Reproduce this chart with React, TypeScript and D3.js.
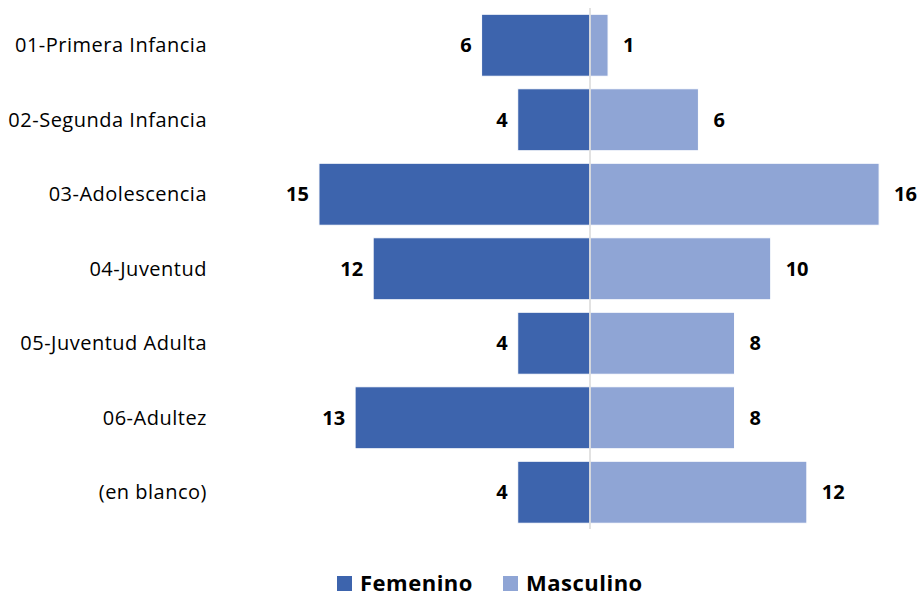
import React from "react";
import * as d3 from "d3";

const categories = [
  "01-Primera Infancia",
  "02-Segunda Infancia",
  "03-Adolescencia",
  "04-Juventud",
  "05-Juventud Adulta",
  "06-Adultez",
  "(en blanco)",
];
const femenino = [6, 4, 15, 12, 4, 13, 4];
const masculino = [1, 6, 16, 10, 8, 8, 12];
const seriesNames = ["Femenino", "Masculino"];
const colors = ["#3d64ad", "#8fa5d5"];

const W = 922;
const H = 596;
const FONT = "'Open Sans', Lato, sans-serif";

export default function App() {
  const x = d3
    .scaleLinear()
    .domain([-16, 18])
    .range([590 - 16 * 18.07, 590 + 18 * 18.07]);
  const y = d3
    .scaleBand<string>()
    .domain(categories)
    .range([8, 529.5])
    .paddingInner(0.168)
    .paddingOuter(0.084);

  return (
    <svg
      width={W}
      height={H}
      style={{ position: "absolute", left: 0, top: 0, background: "#fff" }}
    >
      {categories.map((c, i) => {
        const y0 = y(c)!;
        const bh = y.bandwidth();
        const cy = y0 + bh / 2;
        const f = femenino[i];
        const m = masculino[i];
        return (
          <g key={c}>
            <rect
              x={x(-f)}
              y={y0}
              width={x(0) - x(-f)}
              height={bh}
              fill={colors[0]}
              stroke="#fff"
              strokeWidth={1}
            />
            <rect
              x={x(0)}
              y={y0}
              width={x(m) - x(0)}
              height={bh}
              fill={colors[1]}
              stroke="#fff"
              strokeWidth={1}
            />
            <text
              x={207}
              y={cy}
              dy="0.36em"
              textAnchor="end"
              fontFamily={FONT}
              fontSize={20}
              letterSpacing={0.5}
              fill="#000"
            >
              {c}
            </text>
            <text
              x={x(-f) - 10}
              y={cy}
              dy="0.36em"
              textAnchor="end"
              fontFamily={FONT}
              fontWeight="bold"
              fontSize={20}
              fill="#000"
            >
              {f}
            </text>
            <text
              x={x(m) + 15}
              y={cy}
              dy="0.36em"
              textAnchor="start"
              fontFamily={FONT}
              fontWeight="bold"
              fontSize={20}
              fill="#000"
            >
              {m}
            </text>
          </g>
        );
      })}
      <line
        x1={x(0)}
        x2={x(0)}
        y1={8}
        y2={529}
        stroke="#d9d9d9"
        strokeWidth={1.5}
      />
      {seriesNames.map((s, i) => {
        const lx = [337, 503][i];
        return (
          <g key={s}>
            <rect x={lx} y={576} width={15} height={15} fill={colors[i]} />
            <text
              x={lx + 23}
              y={583.5}
              dy="0.36em"
              fontFamily={FONT}
              fontWeight="bold"
              fontSize={22}
              letterSpacing={0.5}
              fill="#000"
            >
              {s}
            </text>
          </g>
        );
      })}
    </svg>
  );
}
